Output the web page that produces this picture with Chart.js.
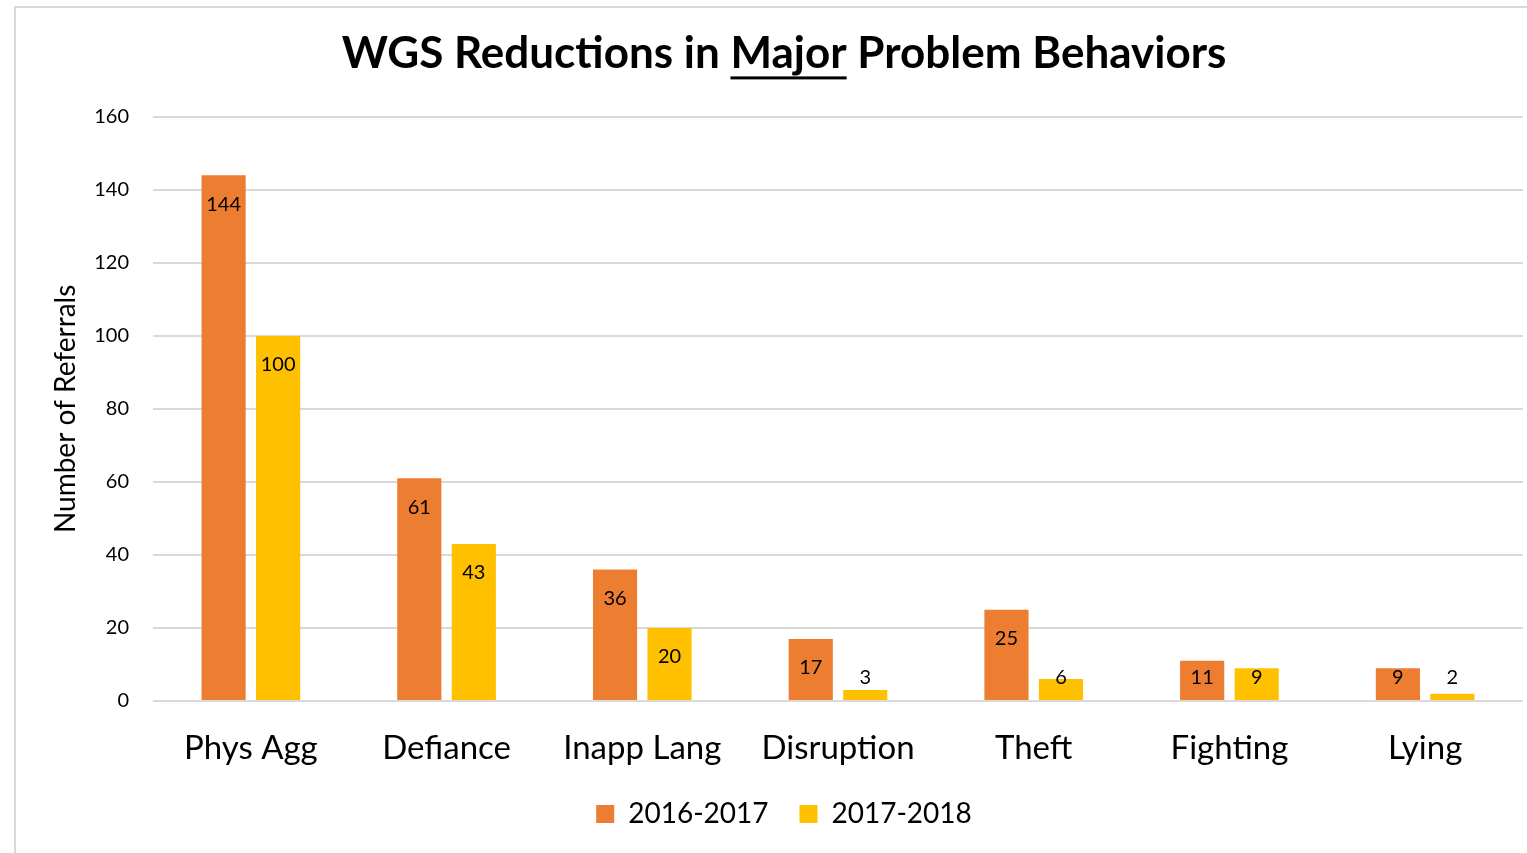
<!DOCTYPE html>
<html>
<head>
<meta charset="utf-8">
<script src="https://cdn.jsdelivr.net/npm/chart.js@4/dist/chart.umd.min.js"></script>
<style>
  html, body { margin: 0; padding: 0; background: #fff; overflow: hidden; }
  #frame { position: absolute; left: 14px; top: 6px; width: 1540px; height: 880px; border: 2px solid #d9d9d9; }
  #wrap { position: absolute; left: 0; top: 0; width: 1527px; height: 853px; }
</style>
</head>
<body>
<div id="frame"></div>
<div id="wrap"><canvas id="behaviorChart"></canvas></div>
<script>
const categories = ['Phys Agg', 'Defiance', 'Inapp Lang', 'Disruption', 'Theft', 'Fighting', 'Lying'];
const year2016 = [144, 61, 36, 17, 25, 11, 9];
const year2017 = [100, 43, 20, 3, 6, 9, 2];
const yTicks = [0, 20, 40, 60, 80, 100, 120, 140, 160];

const FONT = 'Lato, "Open Sans", sans-serif';

// value labels near the top of each bar, kept clear of the baseline
const barLabels = {
    id: 'barLabels',
    afterDatasetsDraw(chart) {
        const ctx = chart.ctx;
        const base = chart.scales.y.getPixelForValue(0);
        ctx.save();
        ctx.font = '20px ' + FONT;
        ctx.fillStyle = '#000';
        ctx.textAlign = 'center';
        ctx.textBaseline = 'middle';
        chart.data.datasets.forEach((ds, i) => {
            chart.getDatasetMeta(i).data.forEach((bar, j) => {
                const y = Math.min(bar.y + 29, base - 23);
                ctx.fillText(String(ds.data[j]), bar.x, y);
            });
        });
        ctx.restore();
    }
};

// underline under the word "Major" in the title
const titleUnderline = {
    id: 'titleUnderline',
    afterDraw(chart) {
        const tb = chart.titleBlock;
        const opts = chart.options.plugins.title;
        const text = opts.text;
        const ctx = chart.ctx;
        const pad = Chart.helpers.toPadding(opts.padding);
        const size = opts.font.size;
        const midY = tb.top + pad.top + size * 1.2 / 2;
        ctx.save();
        ctx.font = 'bold ' + size + 'px ' + FONT;
        const total = ctx.measureText(text).width;
        const before = ctx.measureText('WGS Reductions in ').width;
        const word = ctx.measureText('Major').width;
        const x0 = (tb.left + tb.right) / 2 - total / 2 + before;
        ctx.fillStyle = '#000';
        ctx.fillRect(x0, midY + 23, word, 3);
        ctx.restore();
    }
};

new Chart(document.getElementById('behaviorChart').getContext('2d'), {
    type: 'bar',
    data: {
        labels: categories,
        datasets: [{
            label: '2016-2017',
            data: year2016,
            backgroundColor: '#ED7D31',
            categoryPercentage: 0.557,
            barPercentage: 0.81
        }, {
            label: '2017-2018',
            data: year2017,
            backgroundColor: '#FFC000',
            categoryPercentage: 0.557,
            barPercentage: 0.81
        }]
    },
    options: {
        responsive: true,
        maintainAspectRatio: false,
        animation: false,
        layout: { padding: { left: 45, right: 4, top: 6, bottom: 15 } },
        scales: {
            x: {
                grid: { display: false, drawTicks: false },
                border: { display: false },
                ticks: { color: '#000', padding: 28, font: { family: FONT, size: 33 } },
                afterFit: s => { s.height = 68; }
            },
            y: {
                min: 0,
                max: 160,
                afterBuildTicks: s => { s.ticks = yTicks.map(v => ({ value: v })); },
                grid: { color: '#d9d9d9', lineWidth: 2, drawTicks: false },
                border: { display: false },
                ticks: { color: '#000', padding: 24, font: { family: FONT, size: 20 } },
                title: {
                    display: true,
                    text: 'Number of Referrals',
                    color: '#000',
                    padding: 4,
                    font: { family: FONT, size: 28 }
                },
                afterFit: s => { s.width = 108; }
            }
        },
        plugins: {
            legend: {
                display: true,
                position: 'bottom',
                labels: {
                    color: '#000',
                    boxWidth: 18,
                    boxHeight: 18,
                    padding: 31,
                    font: { family: FONT, size: 28 }
                }
            },
            title: {
                display: true,
                text: 'WGS Reductions in Major Problem Behaviors',
                color: '#000',
                padding: { top: 21, bottom: 37 },
                font: { family: FONT, size: 44, weight: 'bold' }
            },
            tooltip: { enabled: false }
        }
    },
    plugins: [barLabels, titleUnderline]
});
</script>
</body>
</html>
